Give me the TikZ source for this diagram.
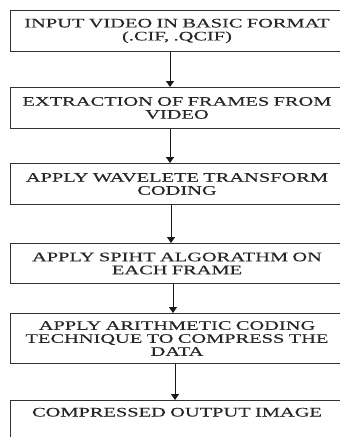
\documentclass[tikz,border=0pt]{standalone}
\usepackage{fontspec}
\newfontfamily\boxfont[FakeStretch=1.57,FakeBold=0.15]{Liberation Serif}
\usetikzlibrary{arrows.meta}
\begin{document}
\begin{tikzpicture}[x=1pt,y=-1pt,
  box/.style={draw=black!80, line width=1pt, minimum width=334pt, text width=324pt,
    align=center, inner sep=0pt, anchor=north, text=black!85,
    font=\boxfont\fontsize{13}{13}\selectfont},
  arr/.style={draw=black!90, line width=1pt, -{Triangle[width=8pt,length=6pt]}}]
\fill[white] (0,0) rectangle (340,437);
\useasboundingbox (0,0) rectangle (340,437);
\clip (0,0) rectangle (340,437);
\node[box, minimum height=41pt] (a) at (177,10) {INPUT VIDEO IN BASIC FORMAT\\(.CIF, .QCIF)};
\node[box, minimum height=41pt] (b) at (177,87) {EXTRACTION OF FRAMES FROM\\VIDEO};
\node[box, minimum height=41pt] (c) at (177,163) {APPLY WAVELETE TRANSFORM\\CODING};
\node[box, minimum height=40pt] (d) at (177,243) {APPLY SPIHT ALGORATHM ON\\EACH FRAME};
\node[box, minimum height=50pt] (e) at (177,313) {APPLY ARITHMETIC CODING\\TECHNIQUE TO COMPRESS THE\\DATA};
\node[box, text height=16pt, text depth=40pt] (f) at (177,400) {COMPRESSED OUTPUT IMAGE};
\draw[arr] ([xshift=-7pt]a.south) -- ([xshift=-7pt]b.north);
\draw[arr] ([xshift=-7pt]b.south) -- ([xshift=-7pt]c.north);
\draw[arr] ([xshift=-6pt]c.south) -- ([xshift=-6pt]d.north);
\draw[arr] ([xshift=-4pt]d.south) -- ([xshift=-4pt]e.north);
\draw[arr] ([xshift=-2pt]e.south) -- ([xshift=-2pt]f.north);
\end{tikzpicture}
\end{document}
